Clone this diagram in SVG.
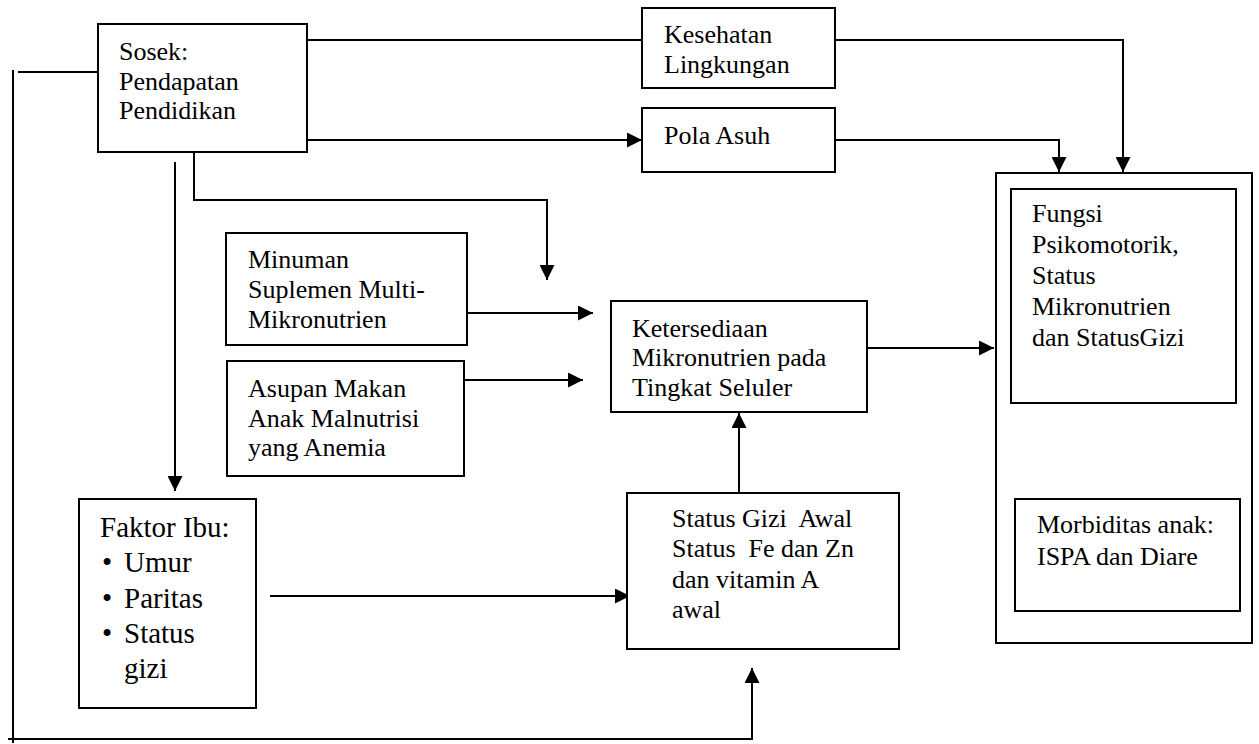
<svg xmlns="http://www.w3.org/2000/svg" width="1259" height="744" viewBox="0 0 1259 744">
<style>
.box{fill:#fff;stroke:#000;stroke-width:2}
.ln{fill:none;stroke:#000;stroke-width:2}
.t text{font-family:'Liberation Serif','Times New Roman','DejaVu Serif',serif;font-size:26px;fill:#000}
.t text.big{font-size:29px}
</style>
<defs>
<marker id="ah" markerUnits="userSpaceOnUse" markerWidth="16" markerHeight="15" refX="15" refY="7.5" orient="auto">
<path d="M0,0 L15,7.5 L0,15 z" fill="#000"/>
</marker>
</defs>
<rect width="1259" height="744" fill="#fff"/>
<g id="connectors">
<path class="ln" d="M13,70 V743"/>
<path class="ln" d="M18,72 H98"/>
<path class="ln" d="M8,739 H752 V668" marker-end="url(#ah)"/>
<path class="ln" d="M307,40 H642"/>
<path class="ln" d="M307,140 H642" marker-end="url(#ah)"/>
<path class="ln" d="M835,40 H1123 V172" marker-end="url(#ah)"/>
<path class="ln" d="M835,140 H1059 V172" marker-end="url(#ah)"/>
<path class="ln" d="M194,152 V200 H547 V280" marker-end="url(#ah)"/>
<path class="ln" d="M175,162 V491" marker-end="url(#ah)"/>
<path class="ln" d="M467,313 H593" marker-end="url(#ah)"/>
<path class="ln" d="M464,380 H583" marker-end="url(#ah)"/>
<path class="ln" d="M867,348 H994" marker-end="url(#ah)"/>
<path class="ln" d="M739,493 V413" marker-end="url(#ah)"/>
<path class="ln" d="M270,596 H630" marker-end="url(#ah)"/>
<path class="ln" d="M1091,485 L1088,428" marker-end="url(#ah)"/>
<path class="ln" d="M1136,427 L1139,484" marker-end="url(#ah)"/>
</g>
<g class="t" font-family="Liberation Serif, Times New Roman, DejaVu Serif, serif" font-size="26">
<g id="sosek">
<rect class="box" x="98" y="24" width="209" height="128"/>
<text x="119" y="60">Sosek:</text>
<text x="119" y="90">Pendapatan</text>
<text x="119" y="119">Pendidikan</text>
</g>
<g id="kesehatan">
<rect class="box" x="642" y="8" width="193" height="80"/>
<text x="664" y="43">Kesehatan</text>
<text x="664" y="73">Lingkungan</text>
</g>
<g id="polaasuh">
<rect class="box" x="642" y="108" width="193" height="64"/>
<text x="664" y="144">Pola Asuh</text>
</g>
<g id="minuman">
<rect class="box" x="226" y="233" width="241" height="112"/>
<text x="248" y="268">Minuman</text>
<text x="248" y="298">Suplemen Multi-</text>
<text x="248" y="328">Mikronutrien</text>
</g>
<g id="asupan">
<rect class="box" x="227" y="361" width="237" height="115"/>
<text x="248" y="397">Asupan Makan</text>
<text x="248" y="427">Anak Malnutrisi</text>
<text x="248" y="456">yang Anemia</text>
</g>
<g id="ketersediaan">
<rect class="box" x="611" y="301" width="256" height="111"/>
<text x="632" y="337">Ketersediaan</text>
<text x="632" y="366">Mikronutrien pada</text>
<text x="632" y="396">Tingkat Seluler</text>
</g>
<g id="statusgizi">
<rect class="box" x="627" y="493" width="272" height="156"/>
<text x="672" y="527" xml:space="preserve">Status Gizi  Awal</text>
<text x="672" y="557" xml:space="preserve">Status  Fe dan Zn</text>
<text x="672" y="588">dan vitamin A</text>
<text x="672" y="618">awal</text>
</g>
<g id="faktoribu">
<rect class="box" x="79" y="499" width="177" height="209"/>
<text class="big" x="100" y="537">Faktor Ibu:</text>
<text class="big" x="102" y="572">•</text>
<text class="big" x="124" y="572">Umur</text>
<text class="big" x="102" y="608">•</text>
<text class="big" x="124" y="608">Paritas</text>
<text class="big" x="102" y="643">•</text>
<text class="big" x="124" y="643">Status</text>
<text class="big" x="124" y="678">gizi</text>
</g>
<g id="outcome">
<rect class="box" x="996" y="173" width="256" height="470"/>
</g>
<g id="fungsi">
<rect class="box" x="1011" y="189" width="225" height="214"/>
<text x="1032" y="222">Fungsi</text>
<text x="1032" y="253">Psikomotorik,</text>
<text x="1032" y="284">Status</text>
<text x="1032" y="315">Mikronutrien</text>
<text x="1032" y="346">dan StatusGizi</text>
</g>
<g id="morbiditas">
<rect class="box" x="1015" y="499" width="225" height="112"/>
<text x="1037" y="533">Morbiditas anak:</text>
<text x="1037" y="565">ISPA dan Diare</text>
</g>
</g>
</svg>
